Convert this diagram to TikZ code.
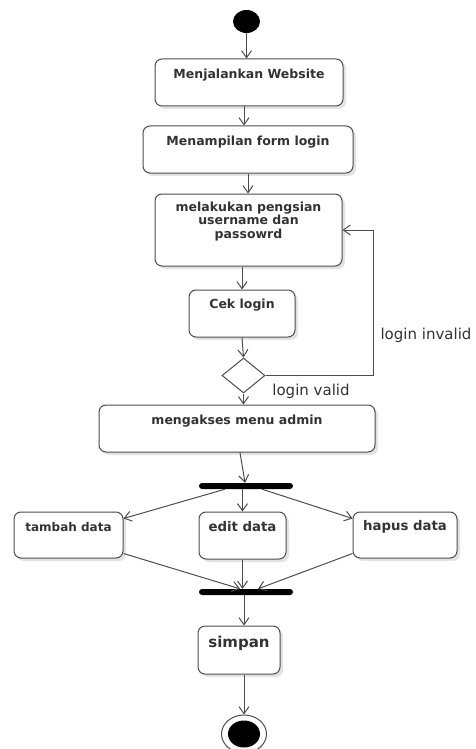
\documentclass[tikz,border=0pt]{standalone}
\usepackage{fontspec}
\setmainfont{DejaVu Sans}
\usetikzlibrary{arrows.meta,shapes.geometric,shadows,calc}
\definecolor{ln}{HTML}{4D4D4D}
\definecolor{tx}{HTML}{333333}
\begin{document}
\begin{tikzpicture}[x=1pt,y=-1pt,
 box/.style={draw=ln, line width=1pt, rounded corners=7pt, fill=white,
   drop shadow={opacity=0.22,shadow xshift=3pt,shadow yshift=-3pt}, inner sep=0pt},
 btxt/.style={font=\bfseries\fontsize{12.5}{13.5}\selectfont, text=tx, align=center, inner sep=0pt},
 lbl/.style={font=\fontsize{15}{18}\selectfont, text=tx, inner sep=0pt},
 arr/.style={draw=ln, line width=1pt, -{Straight Barb[length=7pt,width=10pt]}},
 bar/.style={fill=black, rounded corners=3pt, minimum width=94pt, minimum height=6pt, inner sep=0pt},
]
\useasboundingbox (0,0) rectangle (476,749);
\clip (0,0) rectangle (476,749);

% start
\node[ellipse, fill=black, minimum width=27pt, minimum height=23pt, inner sep=0pt] (start) at (246.5,21.5) {};

% activity boxes
\node[box, minimum width=188pt, minimum height=47pt] (b1) at (249,82.5) {};
\node[btxt] at (249,75) {Menjalankan Website};

\node[box, minimum width=210pt, minimum height=47pt] (b2) at (248,149.5) {};
\node[btxt] at (248,142) {Menampilan form login};

\node[box, minimum width=187pt, minimum height=72pt] (b3) at (248.5,230) {};
\node[btxt] at (248.5,221.5) {melakukan pengsian\\username dan\\passowrd};

\node[box, minimum width=106pt, minimum height=47pt] (b4) at (242,313.5) {};
\node[btxt] at (242,305) {Cek login};

\node[diamond, draw=ln, fill=white, line width=1pt, minimum width=43pt, minimum height=35pt,
      inner sep=0pt, aspect=1.23] (dia) at (243.5,375.5) {};

\node[box, minimum width=276pt, minimum height=47pt] (b5) at (237,428.5) {};
\node[btxt] at (237,421) {mengakses menu admin};

\node[bar] (bar1) at (246,486) {};

\node[box, minimum width=109pt, minimum height=46pt] (tb) at (68.5,535) {};
\node[btxt, font=\bfseries\fontsize{12}{13}\selectfont] at (68.5,527) {tambah data};

\node[box, minimum width=87pt, minimum height=47pt] (ed) at (242.5,535.5) {};
\node[btxt, font=\bfseries\fontsize{13.3}{15}\selectfont] at (242.5,527) {edit data};

\node[box, minimum width=104pt, minimum height=46pt] (hp) at (405,535) {};
\node[btxt, font=\bfseries\fontsize{13.3}{15}\selectfont] at (405,527) {hapus data};

\node[bar] (bar2) at (246,592) {};

\node[box, minimum width=82pt, minimum height=48pt] (sm) at (239,650) {};
\node[btxt, font=\bfseries\fontsize{15}{17}\selectfont] at (239,643) {simpan};

% end
\node[ellipse, draw=ln, line width=1pt, fill=white, minimum width=45pt, minimum height=38pt, inner sep=0pt] (end) at (244,734) {};
\node[ellipse, fill=black, minimum width=32pt, minimum height=27pt, inner sep=0pt] (endin) at (end) {};

% connectors
\draw[arr] (start.south) -- (start.south |- b1.north);
\draw[arr] ($(b1.south)+(-5,0)$) -- ($(b2.north)+(-4,0)$);
\draw[arr] (b2.south) -- (b2.south |- b3.north);
\draw[arr] (b4.north |- b3.south) -- (b4.north);
\draw[arr] (b4.south) -- (dia.north);
\draw[arr] (dia.south) -- (dia.south |- b5.north);
\draw[arr] (dia.east) -- ++(108,0) |- (b3.east);
\node[lbl] (inv) at (426,335) {login invalid};
\node[lbl] (val) at (311,391) {login valid};

\draw[arr] ($(b5.south)+(3,0)$) -- ($(bar1.north)+(-1,0)$);
\draw[arr] ($(bar1.south)+(-21,0)$) -- ($(tb.north east)+(0,7)$);
\draw[arr] (bar1.south -| ed.north) -- (ed.north);
\draw[arr] ($(bar1.south)+(16,0)$) -- ($(hp.north west)+(0,7)$);
\draw[arr] ($(tb.south east)+(0,-5)$) -- ($(bar2.north)+(-6,0)$);
\draw[arr] (ed.south) -- (ed.south |- bar2.north);
\draw[arr] ($(hp.south west)+(0,-5)$) -- ($(bar2.north)+(12,0)$);
\draw[arr] ($(bar2.south)+(-2,0)$) -- ($(sm.north)+(5,0)$);
\draw[arr] ($(sm.south)+(5,0)$) -- (end.north);
\end{tikzpicture}
\end{document}
